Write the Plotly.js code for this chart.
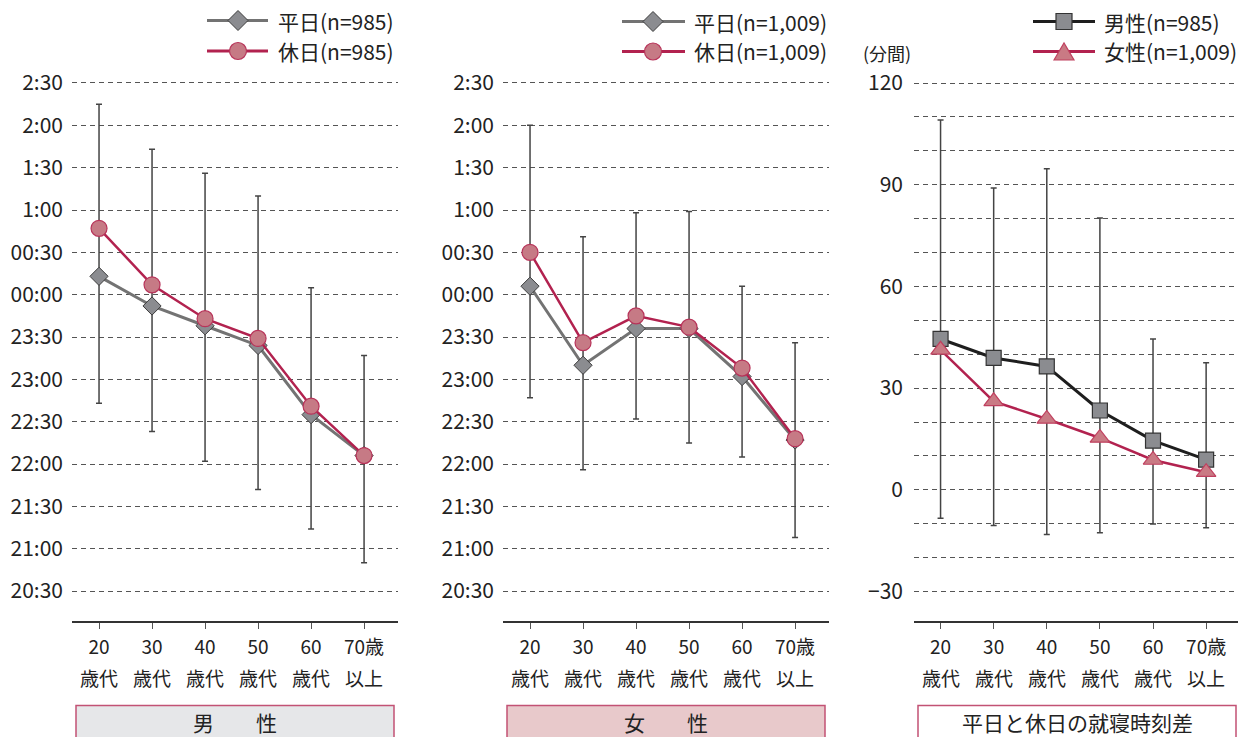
<!DOCTYPE html>
<html>
<head>
<meta charset="utf-8">
<script src="https://cdn.plot.ly/plotly-3.0.1.min.js"></script>
<style>html,body{margin:0;padding:0;background:#fff;}#chart{width:1238px;height:737px;}</style>
</head>
<body>
<div id="chart"></div>
<script>
// ---------- data ----------
const ageGroups = ['20歳代', '30歳代', '40歳代', '50歳代', '60歳代', '70歳以上'];
const ageLabelTop = ['20', '30', '40', '50', '60', '70歳'];
const ageLabelBottom = ['歳代', '歳代', '歳代', '歳代', '歳代', '以上'];

const timeTicks = ['2:30', '2:00', '1:30', '1:00', '00:30', '00:00', '23:30', '23:00', '22:30', '22:00', '21:30', '21:00', '20:30'];
const diffTicks = [-30, 0, 30, 60, 90, 120];
const diffMinor = [-20, -10, 10, 20, 40, 50, 70, 80, 100, 110];

// 男性 bedtime (clock)
const maleWeekday = ['0:13', '23:52', '23:38', '23:24', '22:35', '22:06'];
const maleHoliday = ['0:47', '0:07', '23:43', '23:29', '22:41', '22:06'];
const maleRangeHigh = ['2:15', '1:43', '1:26', '1:10', '0:05', '23:17'];
const maleRangeLow = ['22:43', '22:23', '22:02', '21:42', '21:14', '20:50'];

// 女性 bedtime (clock)
const femaleWeekday = ['0:06', '23:10', '23:36', '23:36', '23:02', '22:17'];
const femaleHoliday = ['0:30', '23:26', '23:45', '23:37', '23:08', '22:18'];
const femaleRangeHigh = ['2:00', '0:41', '0:58', '0:59', '0:06', '23:26'];
const femaleRangeLow = ['22:47', '21:56', '22:32', '22:15', '22:05', '21:08'];

// 平日と休日の就寝時刻差 (minutes)
const diffMale = [44.5, 38.9, 36.4, 23.4, 14.5, 8.9];
const diffFemale = [41.3, 26.1, 20.9, 15.3, 8.8, 5.2];
const diffRangeHigh = [109.1, 89, 94.7, 80.2, 44.5, 37.5];
const diffRangeLow = [-8.4, -10.5, -13.2, -12.7, -10.1, -11.2];

// ---------- helpers ----------
function toMin(s) {
  const p = s.split(':').map(Number);
  let v = p[0] * 60 + p[1];
  if (p[0] >= 12) v -= 1440;
  return v;
}
const W = 1238, H = 737;
const PX = x => x / W;
const PY = y => 1 - y / H;

const FONT = '"Noto Sans CJK JP", "Noto Sans", sans-serif';
const TXT = '#222';
const GRAY_LINE = '#737373';
const CRIMSON = '#b2224f';
const ERR = '#444';

function rangeTrace(xa, ya, low, high) {
  return {
    x: ageGroups, y: low, xaxis: xa, yaxis: ya, type: 'scatter', mode: 'markers',
    marker: {size: 1, color: 'rgba(0,0,0,0)'}, hoverinfo: 'skip', showlegend: false,
    error_y: {type: 'data', symmetric: false,
      array: high.map((h, i) => h - low[i]), arrayminus: low.map(() => 0),
      color: ERR, thickness: 1.5, width: 3}
  };
}
function weekdayTrace(xa, ya, vals) {
  return {x: ageGroups, y: vals, xaxis: xa, yaxis: ya, type: 'scatter', mode: 'lines+markers', showlegend: false,
    line: {color: GRAY_LINE, width: 3},
    marker: {symbol: 'diamond', size: 14, color: '#8b8c90', line: {color: '#3d3d3d', width: 1}}};
}
function holidayTrace(xa, ya, vals) {
  return {x: ageGroups, y: vals, xaxis: xa, yaxis: ya, type: 'scatter', mode: 'lines+markers', showlegend: false,
    line: {color: CRIMSON, width: 2.5},
    marker: {symbol: 'circle', size: 16, color: '#c67a85', line: {color: '#b8345a', width: 1.2}}};
}

const data = [
  rangeTrace('x', 'y', maleRangeLow.map(toMin), maleRangeHigh.map(toMin)),
  weekdayTrace('x', 'y', maleWeekday.map(toMin)),
  holidayTrace('x', 'y', maleHoliday.map(toMin)),
  rangeTrace('x2', 'y2', femaleRangeLow.map(toMin), femaleRangeHigh.map(toMin)),
  weekdayTrace('x2', 'y2', femaleWeekday.map(toMin)),
  holidayTrace('x2', 'y2', femaleHoliday.map(toMin)),
  rangeTrace('x3', 'y3', diffRangeLow, diffRangeHigh),
  {x: ageGroups, y: diffMale, xaxis: 'x3', yaxis: 'y3', type: 'scatter', mode: 'lines+markers', showlegend: false,
    line: {color: '#1e1e1e', width: 3},
    marker: {symbol: 'square', size: 15, color: '#8b8c90', line: {color: '#333', width: 1.2}}},
  {x: ageGroups, y: diffFemale, xaxis: 'x3', yaxis: 'y3', type: 'scatter', mode: 'lines+markers', showlegend: false,
    line: {color: CRIMSON, width: 2.5},
    marker: {symbol: 'triangle-up', size: 17, color: '#c97a84', line: {color: '#c0405f', width: 1.2}}}
];

const yDomain = [PY(621), PY(81)];
function xAxis(d, r) {
  return {domain: d, type: 'category', range: r, showline: true, linecolor: '#333', linewidth: 2,
    ticks: 'outside', ticklen: 6, tickcolor: '#555', tickwidth: 1, showgrid: false, zeroline: false,
    tickmode: 'array', tickvals: ageGroups, ticktext: ageLabelTop, ticklabelstandoff: 2,
    tickfont: {family: FONT, size: 19, color: TXT}, fixedrange: true};
}
const gridStyle = {showgrid: true, gridcolor: '#555', gridwidth: 1, griddash: '5px,4px'};
function timeAxis(anchor) {
  return Object.assign({domain: yDomain, anchor: anchor, range: [-231.2, 151.4],
    tickmode: 'array', tickvals: timeTicks.map(toMin), ticktext: timeTicks,
    showline: false, zeroline: false, ticks: '', ticklabelstandoff: 8,
    tickfont: {family: FONT, size: 21, color: TXT}, fixedrange: true}, gridStyle);
}

const layout = {
  width: W, height: H, margin: {l: 0, r: 0, t: 0, b: 0},
  paper_bgcolor: '#fff', plot_bgcolor: '#fff', showlegend: false,
  font: {family: FONT, color: TXT},
  xaxis: Object.assign(xAxis([PX(72), PX(398)], [-0.51, 5.64]), {anchor: 'y'}),
  yaxis: timeAxis('x'),
  xaxis2: Object.assign(xAxis([PX(503), PX(829)], [-0.51, 5.64]), {anchor: 'y2'}),
  yaxis2: timeAxis('x2'),
  xaxis3: Object.assign(xAxis([PX(914), 1], [-0.5, 5.6]), {anchor: 'y3'}),
  yaxis3: Object.assign({domain: yDomain, anchor: 'x3', range: [-38.7, 120.6],
    tickmode: 'array', tickvals: diffTicks, ticktext: diffTicks.map(v => v < 0 ? '\u2212' + Math.abs(v) : String(v)),
    showline: false, zeroline: false, ticks: '', ticklabelstandoff: 10,
    tickfont: {family: FONT, size: 21, color: TXT}, fixedrange: true,
    minor: {tickmode: 'array', tickvals: diffMinor, showgrid: true, gridcolor: '#555', gridwidth: 1, griddash: '5px,4px', ticks: ''}
  }, gridStyle),
  shapes: [],
  annotations: []
};

// second line of the age tick labels
['x', 'x2', 'x3'].forEach(xa => {
  ageGroups.forEach((g, i) => {
    layout.annotations.push({xref: xa, yref: 'paper', x: g, y: PY(677.5), xanchor: 'center', yanchor: 'middle',
      text: ageLabelBottom[i], showarrow: false, borderpad: 0, font: {family: FONT, size: 19, color: TXT}});
  });
});

// ---------- custom legends ----------
function legLine(x0, x1, y, color) {
  layout.shapes.push({type: 'line', xref: 'paper', yref: 'paper', x0: PX(x0), x1: PX(x1), y0: PY(y), y1: PY(y),
    line: {color: color, width: 3}});
}
function legText(x, y, text) {
  layout.annotations.push({xref: 'paper', yref: 'paper', x: PX(x), y: PY(y), xanchor: 'left', yanchor: 'middle',
    text: text, showarrow: false, font: {family: FONT, size: 21, color: TXT}});
}
function legDiamond(cx, cy, r) {
  layout.shapes.push({type: 'path', xref: 'paper', yref: 'paper',
    path: `M${PX(cx - r)},${PY(cy)} L${PX(cx)},${PY(cy - r)} L${PX(cx + r)},${PY(cy)} L${PX(cx)},${PY(cy + r)} Z`,
    fillcolor: '#8b8c90', line: {color: '#3d3d3d', width: 1}});
}
function legCircle(cx, cy, r) {
  layout.shapes.push({type: 'circle', xref: 'paper', yref: 'paper', x0: PX(cx - r), x1: PX(cx + r), y0: PY(cy + r), y1: PY(cy - r),
    fillcolor: '#c67a85', line: {color: '#b8345a', width: 1.2}});
}
function legSquare(cx, cy, r) {
  layout.shapes.push({type: 'rect', xref: 'paper', yref: 'paper', x0: PX(cx - r), x1: PX(cx + r), y0: PY(cy + r), y1: PY(cy - r),
    fillcolor: '#8b8c90', line: {color: '#333', width: 1.2}});
}
function legTriangle(cx, cy, w, h) {
  layout.shapes.push({type: 'path', xref: 'paper', yref: 'paper',
    path: `M${PX(cx - w / 2)},${PY(cy + h / 2)} L${PX(cx)},${PY(cy - h / 2)} L${PX(cx + w / 2)},${PY(cy + h / 2)} Z`,
    fillcolor: '#c97a84', line: {color: '#c0405f', width: 1.2}});
}

// panel 1
legLine(207, 268, 20.5, GRAY_LINE); legDiamond(238, 20.5, 10); legText(276, 20.5, '平日(n=985)');
legLine(207, 268, 51, CRIMSON); legCircle(238, 51, 8.5); legText(276, 51, '休日(n=985)');
// panel 2
legLine(622, 685, 21.5, GRAY_LINE); legDiamond(653, 21.5, 10); legText(692, 21.5, '平日(n=1,009)');
legLine(622, 685, 51.5, CRIMSON); legCircle(653, 51.5, 8.5); legText(692, 51.5, '休日(n=1,009)');
// panel 3
legLine(1033, 1095, 21.5, '#1e1e1e'); legSquare(1064, 21.5, 8); legText(1102, 21.5, '男性(n=985)');
legLine(1033, 1095, 51.5, CRIMSON); legTriangle(1064, 51.5, 20, 17); legText(1102, 51.5, '女性(n=1,009)');

// unit label
layout.annotations.push({xref: 'paper', yref: 'paper', x: PX(887), y: PY(53), xanchor: 'center', yanchor: 'middle',
  text: '(分間)', showarrow: false, font: {family: FONT, size: 18, color: TXT}});

// ---------- bottom panel boxes ----------
const panelBoxes = [
  {x0: 76, x1: 394, fill: '#e6e7e9', text: '男　　性'},
  {x0: 507, x1: 825, fill: '#e8c9cb', text: '女　　性'},
  {x0: 918, x1: 1236, fill: '#ffffff', text: '平日と休日の就寝時刻差'}
];
panelBoxes.forEach(b => {
  layout.shapes.push({type: 'rect', xref: 'paper', yref: 'paper', x0: PX(b.x0), x1: PX(b.x1), y0: PY(750), y1: PY(705.5),
    fillcolor: b.fill, line: {color: '#c25274', width: 1.5}, layer: 'below'});
  layout.annotations.push({xref: 'paper', yref: 'paper', x: PX((b.x0 + b.x1) / 2), y: PY(722), xanchor: 'center', yanchor: 'middle',
    text: b.text, showarrow: false, font: {family: FONT, size: 21, color: TXT}});
});

Plotly.newPlot('chart', data, layout, {staticPlot: true, displayModeBar: false});
</script>
</body>
</html>
